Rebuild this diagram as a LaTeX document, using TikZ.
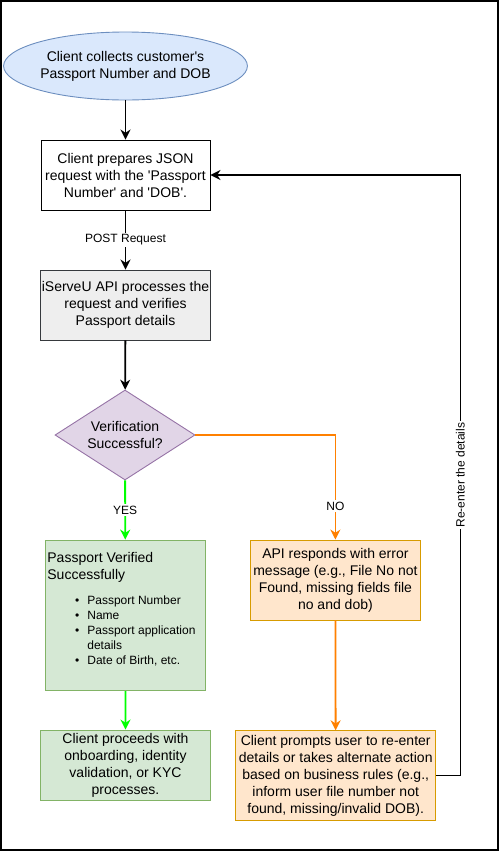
\documentclass[tikz,border=0pt]{standalone}
\usepackage{fontspec}
\setmainfont{Liberation Sans}
\usetikzlibrary{shapes.geometric,arrows.meta}

\definecolor{startfill}{HTML}{DAE8FC}
\definecolor{startline}{HTML}{6C8EBF}
\definecolor{apifill}{HTML}{EEEEEE}
\definecolor{apiline}{HTML}{36393D}
\definecolor{checkfill}{HTML}{E1D5E7}
\definecolor{checkline}{HTML}{9673A6}
\definecolor{okfill}{HTML}{D5E8D4}
\definecolor{okline}{HTML}{82B366}
\definecolor{errfill}{HTML}{FFE6CC}
\definecolor{errline}{HTML}{D79B00}
\definecolor{yesflow}{HTML}{00FF00}
\definecolor{noflow}{HTML}{FF8000}

\tikzset{
  box/.style={rectangle, draw, line width=0.9pt, align=center, inner sep=1pt,
    font=\fontsize{14}{17}\selectfont},
  startnode/.style={box, ellipse, draw=startline, fill=startfill},
  apibox/.style={box, draw=apiline, fill=apifill},
  decision/.style={box, diamond, aspect=1.55, inner sep=0pt, draw=checkline, fill=checkfill},
  okbox/.style={box, draw=okline, fill=okfill},
  errbox/.style={box, draw=errline, fill=errfill},
  flow/.style={-{Stealth[length=10pt,width=10pt]}, line width=1.8pt},
  edgelabel/.style={fill=white, text=black, inner sep=1.5pt, font=\fontsize{12}{14}\selectfont}
}

\begin{document}
\begin{tikzpicture}[x=1pt,y=1pt]
  \useasboundingbox (0,0) rectangle (502,-852);
  \draw[line width=1.2pt] (1,-1) rectangle (498,-850);

  % left column
  \node[startnode, minimum width=190, minimum height=68] (collect) at (125.5,-66)
    {Client collects customer\textquotesingle s\\Passport Number and DOB};
  \node[box, minimum width=169, minimum height=70] (prep) at (125.5,-175)
    {Client prepares JSON\\request with the \textquotesingle Passport\\Number\textquotesingle{} and \textquotesingle DOB\textquotesingle .};
  \node[apibox, minimum width=169, minimum height=70] (api) at (125.5,-305)
    {iServeU API processes the\\request and verifies\\Passport details};
  \node[decision, minimum width=140, minimum height=90] (check) at (125,-435)
    {Verification\\Successful?};
  \node[okbox, minimum width=160.7, minimum height=150.7] (verified) at (125.4,-615.4)
    {\parbox{156pt}{\raggedright\fontsize{14}{17}\selectfont
      Passport Verified\\Successfully\par
      \vspace{10pt}\fontsize{12}{15}\selectfont\leftskip=40pt
      \noindent\llap{\textbullet\hspace{8pt}}Passport Number\par
      \noindent\llap{\textbullet\hspace{8pt}}Name\par
      \noindent\llap{\textbullet\hspace{8pt}}Passport application\\details\par
      \noindent\llap{\textbullet\hspace{8pt}}Date of Birth, etc.\par
      \vspace{12pt}}};
  \node[okbox, minimum width=169.3, minimum height=70] (onboard) at (125.5,-765)
    {Client proceeds with\\onboarding, identity\\validation, or KYC\\processes.};

  % right column
  \node[errbox, minimum width=170.7, minimum height=80] (error) at (335.4,-580)
    {API responds with error\\message (e.g., File No not\\Found, missing fields file\\no and dob)};
  \node[errbox, minimum width=200, minimum height=89.3] (prompt) at (335.7,-775.4)
    {Client prompts user to re-enter\\details or takes alternate action\\based on business rules (e.g.,\\inform user file number not\\found, missing/invalid DOB).};

  \draw[flow] (collect) -- (prep);
  \draw[flow] (prep) -- node[edgelabel] {POST Request} (api);
  \draw[flow] (api) -- (check);
  \draw[flow, yesflow] (check) -- node[edgelabel] {YES} (verified);
  \draw[flow, yesflow] (verified) -- (onboard);
  \draw[flow, noflow] (check.east) -| node[pos=0.84, edgelabel] {NO} (error.north);
  \draw[flow, noflow] (error) -- (prompt);
  \draw[flow] (prompt.east) -- ++(24.3,0) |- node[pos=0.25, rotate=90, edgelabel] {Re-enter the details} (prep.east);
\end{tikzpicture}
\end{document}
